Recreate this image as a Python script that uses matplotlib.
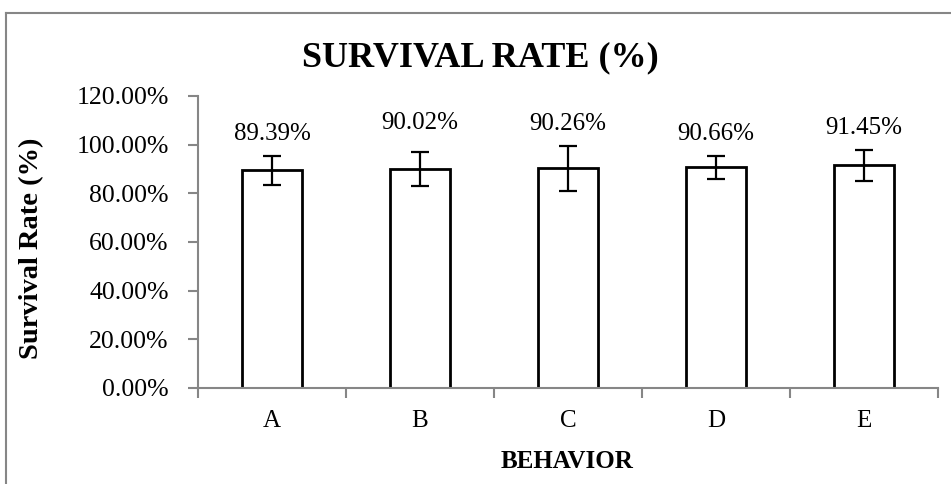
import matplotlib.pyplot as plt
from matplotlib.lines import Line2D
from matplotlib.ticker import FuncFormatter

# dados do grafico
comportamentos = ["A", "B", "C", "D", "E"]
sobrevivencia = [89.39, 90.02, 90.26, 90.66, 91.45]
erro = [5.8, 7.0, 9.2, 4.6, 6.5]

plt.rcParams["font.family"] = ["Liberation Serif", "DejaVu Serif"]
cinza = "#868686"

fig = plt.figure(figsize=(9.51, 4.84), dpi=100)
ax = fig.add_axes([198 / 951, 1 - 388 / 484, 740 / 951, 292 / 484])

# moldura do grafico (como no excel)
fig.add_artist(Line2D([5.5 / 951, 1], [1 - 13 / 484, 1 - 13 / 484],
                      transform=fig.transFigure, color=cinza, lw=1.5))
fig.add_artist(Line2D([5.5 / 951, 5.5 / 951], [1 - 13 / 484, 0],
                      transform=fig.transFigure, color=cinza, lw=1.5))

x = range(len(comportamentos))
ax.bar(x, sobrevivencia, width=0.4, color="white", edgecolor="black",
       linewidth=2, zorder=2)
ax.errorbar(x, sobrevivencia, yerr=erro, fmt="none", ecolor="black",
            elinewidth=1.6, capsize=6.5, capthick=1.6, zorder=3)

# rotulos acima das barras (o de B fica um pouco mais alto no original)
desloc = [4.5, 7.5, 4.5, 4.5, 4.5]
for i in x:
    ax.text(i, sobrevivencia[i] + erro[i] + desloc[i], f"{sobrevivencia[i]:.2f}%",
            ha="center", va="bottom", fontsize=18)

ax.set_xlim(-0.5, len(comportamentos) - 0.5)
ax.set_ylim(0, 120)
ax.set_yticks(range(0, 121, 20))
ax.yaxis.set_major_formatter(FuncFormatter(lambda v, p: f"{v:.2f}%"))

ax.set_xticks(list(x))
ax.set_xticklabels(comportamentos)
ax.set_xticks([i - 0.5 for i in range(len(comportamentos) + 1)], minor=True)
ax.tick_params(axis="x", which="major", length=0, pad=16, labelsize=18)
ax.tick_params(axis="x", which="minor", length=7, width=1.5, color=cinza)
ax.tick_params(axis="y", length=7, width=1.5, color=cinza, pad=14, labelsize=18.5)

for lado in ["top", "right"]:
    ax.spines[lado].set_visible(False)
for lado in ["left", "bottom"]:
    ax.spines[lado].set_color(cinza)
    ax.spines[lado].set_linewidth(1.5)
    ax.spines[lado].set_zorder(4)

fig.text(480 / 951, 1 - 58 / 484, "SURVIVAL RATE (%)", ha="center",
         va="center", fontsize=26, fontweight="bold")
fig.text(567 / 951, 1 - 462 / 484, "BEHAVIOR", ha="center", va="center",
         fontsize=18, fontweight="bold")
fig.text(32 / 951, 1 - 248 / 484, "Survival Rate (%)", ha="center",
         va="center", rotation=90, fontsize=20.5, fontweight="bold")

fig.savefig("out.png", dpi=100)
